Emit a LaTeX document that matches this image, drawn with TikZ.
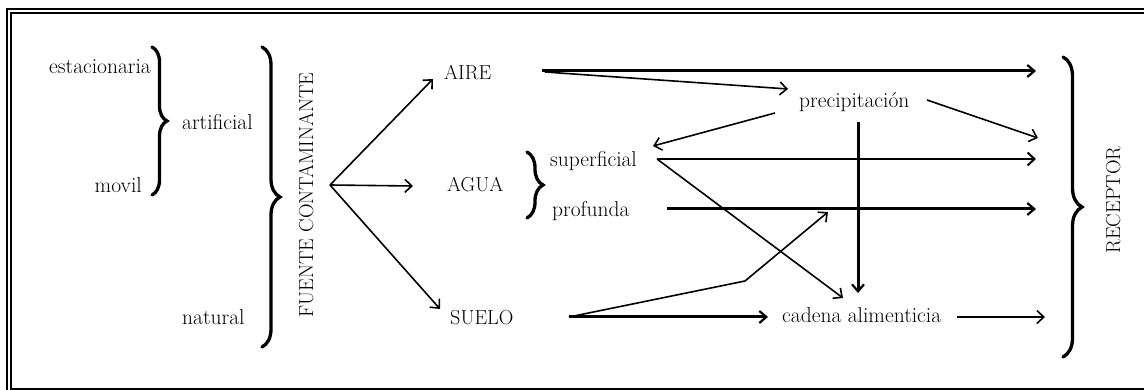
\documentclass[tikz,border=0pt]{standalone}
\usetikzlibrary{arrows.meta,decorations.pathreplacing}
\begin{document}
\begin{tikzpicture}[x=1pt,y=-1pt,
  lbl/.style={inner sep=0pt,font=\fontsize{21.5}{24}\selectfont},
  caps/.style={inner sep=0pt,font=\fontsize{20.2}{24}\selectfont},
  frm/.style={line width=2pt},
  brc/.style={decorate,decoration={brace,amplitude=#1},line width=3.3pt,line cap=round},
  thinarr/.style={line width=1.6pt,-{Straight Barb[length=7pt,width=13pt,line width=1.6pt]}},
  medarr/.style={line width=2pt,-{Straight Barb[length=7pt,width=13pt,line width=2pt]}},
  thickarr/.style={line width=3pt,-{Straight Barb[length=7pt,width=12pt,line width=2.2pt]}}]
\useasboundingbox (0,0) rectangle (1144,390);
\clip (0,0) rectangle (1144,390);
% frame
\draw[frm] (7,9) rectangle (1170,410);
\draw[frm] (11,13) rectangle (1170,388.5);
% texts
\node[lbl,anchor=base east] (est) at (151,74) {estacionaria};
\node[lbl,anchor=base east] (mov) at (142,193) {movil};
\node[lbl,anchor=base west] (art) at (182,130) {artificial};
\node[lbl,anchor=base west] (nat) at (182,324) {natural};
\node[caps,anchor=base,rotate=90] (fuente) at (313,195) {FUENTE CONTAMINANTE};
\node[caps,anchor=base west] (aire) at (444,80) {AIRE};
\node[caps,anchor=base west] (agua) at (447,192) {AGUA};
\node[caps,anchor=base west] (suelo) at (450,324) {SUELO};
\node[lbl,anchor=base west] (sup) at (550,167) {superficial};
\node[lbl,anchor=base west] (prof) at (552,217) {profunda};
\node[lbl,anchor=base west] (prec) at (799,108) {precipitación};
\node[lbl,anchor=base west] (cad) at (782,323) {cadena alimenticia};
\node[caps,anchor=base,rotate=90] (rec) at (1120,200) {RECEPTOR};
% braces
\draw[brc=15pt] (152,47) -- (152,195);
\draw[brc=18pt] (262,47) -- (262,347);
\draw[brc=16pt] (527,152) -- (527,218);
\draw[brc=19pt] (1063,57) -- (1063,357);
% coordinates
\coordinate (fan) at (330,185);
\coordinate (toaire) at (433,79);
\coordinate (toagua) at (413,186);
\coordinate (tosuelo) at (440,309);
\coordinate (aireout) at (542,71);
\coordinate (recaire) at (1036,71);
\coordinate (aireprec) at (545,72);
\coordinate (precin) at (788,89);
\coordinate (precout1) at (775,113);
\coordinate (supin) at (653,146);
\coordinate (precout2) at (927,100);
\coordinate (recprec) at (1038,138);
\coordinate (precdown) at (858,122);
\coordinate (caddown) at (858,293);
\coordinate (supout) at (657,159);
\coordinate (recsup) at (1036,159);
\coordinate (cadin) at (843,298);
\coordinate (profout) at (667,209);
\coordinate (recprof) at (1036,209);
\coordinate (sueloout) at (569,317);
\coordinate (cadleft) at (768,317);
\coordinate (bend) at (745,281);
\coordinate (profin) at (828,212);
\coordinate (cadout) at (957,317);
\coordinate (reccad) at (1045,317);
% connectors
\draw[thinarr] (fan) -- (toaire);
\draw[thinarr] (fan) -- (toagua);
\draw[thinarr] (fan) -- (tosuelo);
\draw[thickarr] (aireout) -- (recaire);
\draw[thinarr] (aireprec) -- (precin);
\draw[thinarr] (precout1) -- (supin);
\draw[thinarr] (precout2) -- (recprec);
\draw[thickarr] (precdown) -- (caddown);
\draw[medarr] (supout) -- (recsup);
\draw[thinarr] (supout) -- (cadin);
\draw[thickarr] (profout) -- (recprof);
\draw[thickarr] (sueloout) -- (cadleft);
\draw[thinarr,line join=miter] (sueloout) -- (bend) -- (profin);
\draw[thinarr] (cadout) -- (reccad);
\end{tikzpicture}
\end{document}
